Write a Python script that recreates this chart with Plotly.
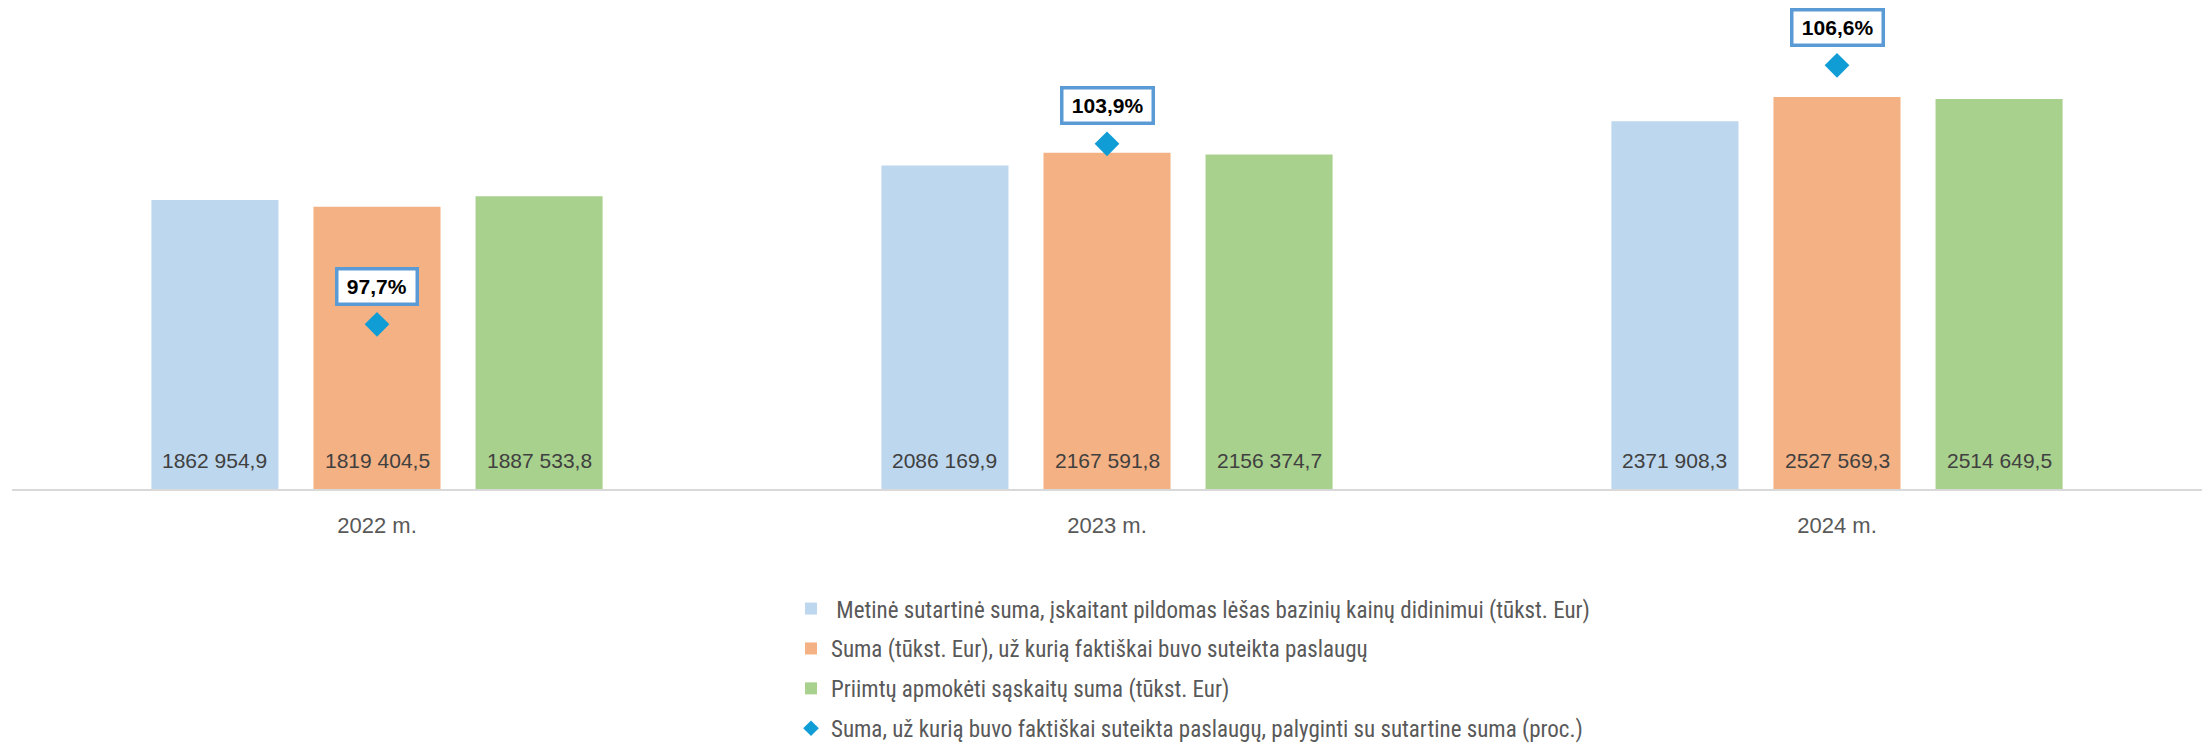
import plotly.graph_objects as go

categories = ["2022 m.", "2023 m.", "2024 m."]
contract_sum = [1862954.9, 2086169.9, 2371908.3]
provided_sum = [1819404.5, 2167591.8, 2527569.3]
paid_sum = [1887533.8, 2156374.7, 2514649.5]
percent = [97.7, 103.9, 106.6]

names = [
    " Metinė sutartinė suma, įskaitant pildomas lėšas bazinių kainų didinimui (tūkst. Eur)",
    "Suma (tūkst. Eur), už kurią faktiškai buvo suteikta paslaugų",
    "Priimtų apmokėti sąskaitų suma (tūkst. Eur)",
    "Suma, už kurią buvo faktiškai suteikta paslaugų, palyginti su sutartine suma (proc.)",
]
colors = ["#BDD7EE", "#F4B183", "#A9D18E"]
marker_color = "#109DD6"

NARROW = "Liberation Sans Narrow, Arial Narrow, Roboto Condensed, Liberation Sans, sans-serif"
MAIN = "Liberation Sans, Arial, sans-serif"


def fmt_num(v):
    s = f"{v:.1f}"
    ip, dp = s.split(".")
    if len(ip) > 3:
        ip = ip[:-3] + " " + ip[-3:]
    return f"{ip},{dp}"


def fmt_pct(v):
    return f"{v:.1f}".replace(".", ",") + "%"


fig = go.Figure()
series = [contract_sum, provided_sum, paid_sum]
for i, vals in enumerate(series):
    fig.add_trace(go.Bar(
        x=categories, y=vals, name=names[i],
        marker=dict(color=colors[i], line=dict(width=0)),
        legendgroup=f"g{i}",
        hoverinfo="skip",
    ))

fig.add_trace(go.Scatter(
    x=categories, y=percent, name=names[3], yaxis="y2",
    mode="markers",
    marker=dict(symbol="diamond", size=19, color=marker_color),
    legendgroup="g3",
    hoverinfo="skip",
))

annotations = []
slot = (1 - 0.334) / 3
for i, vals in enumerate(series):
    off = (i - 1) * slot
    for j, v in enumerate(vals):
        annotations.append(dict(
            x=j + off, y=0, xref="x", yref="y",
            text=fmt_num(v), showarrow=False,
            yanchor="middle", yshift=29,
            font=dict(family=MAIN, size=21, color="#404040"),
        ))

for j, p in enumerate(percent):
    label = fmt_pct(p)
    n_digits = sum(c.isdigit() for c in label)
    box_w = n_digits * 11.7 + 5.8 + 18.7 + 13
    annotations.append(dict(
        x=j, y=p, xref="x", yref="y2",
        text=f"<b>{label}</b>", showarrow=False,
        yanchor="middle", yshift=38,
        width=box_w, height=28,
        font=dict(family=MAIN, size=21, color="#000000"),
        bgcolor="#FFFFFF", bordercolor="#5B9BD5", borderwidth=3.5, borderpad=2,
    ))

fig.update_layout(
    width=2208, height=744,
    margin=dict(l=12, r=6, t=10, b=255, autoexpand=False),
    paper_bgcolor="#FFFFFF", plot_bgcolor="#FFFFFF",
    barmode="group", bargap=0.334, bargroupgap=0.216,
    xaxis=dict(
        type="category", showgrid=False, zeroline=False,
        showline=True, linecolor="#D9D9D9", linewidth=2,
        ticks="", ticklabelstandoff=16,
        tickfont=dict(family=MAIN, size=22, color="#595959"),
    ),
    yaxis=dict(range=[0, 3088600], visible=False, showgrid=False, zeroline=False),
    yaxis2=dict(range=[92.04, 108.5], overlaying="y", side="right",
                visible=False, showgrid=False, zeroline=False),
    legend=dict(
        orientation="v", x=(791 - 12) / 2190, xanchor="left", y=-0.2048, yanchor="top",
        font=dict(family=NARROW, size=23, color="#595959"),
        tracegroupgap=7, traceorder="grouped",
        itemwidth=30, itemsizing="constant",
    ),
    annotations=annotations,
    showlegend=True,
    hovermode=False,
)

fig.write_html(
    "out.html",
    config={"displayModeBar": False},
    post_script="document.body.style.margin='0px';document.body.style.overflow='hidden';",
)
